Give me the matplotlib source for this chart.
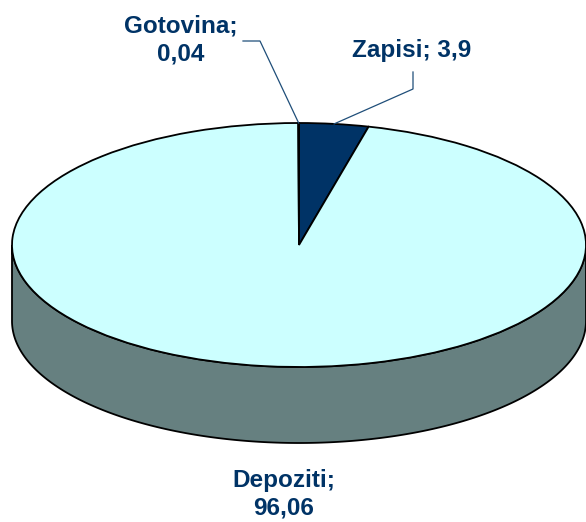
import numpy as np
import matplotlib
matplotlib.use("Agg")
import matplotlib.pyplot as plt
from matplotlib.transforms import Affine2D

# ---- data ----
categories = ["Zapisi", "Depoziti", "Gotovina"]
values = [3.9, 96.06, 0.04]
value_labels = ["3,9", "96,06", "0,04"]
top_colors = ["#003366", "#CCFFFF", "#CCFFFF"]
side_color = "#668080"
text_color = "#003366"

plt.rcParams['font.family'] = ['Liberation Sans', 'DejaVu Sans']

W, H = 586, 522
fig = plt.figure(figsize=(W / 100, H / 100), dpi=100)
ax = fig.add_axes([0, 0, 1, 1])

# ellipse geometry (pixels)
cx, cy, rx, ry, depth = 299, 245, 287, 122, 76

# side band (front half)
t = np.linspace(0, np.pi, 300)
top_x = cx + rx * np.cos(t)
top_y = cy + ry * np.sin(t)
side_x = np.concatenate([top_x, top_x[::-1]])
side_y = np.concatenate([top_y, top_y[::-1] + depth])
ax.fill(side_x, side_y, facecolor=side_color, edgecolor="black", linewidth=1.3, zorder=1)

# top face via pie, squashed into ellipse
wedges, _ = ax.pie(values, colors=top_colors, startangle=90, counterclock=False,
                   wedgeprops=dict(edgecolor="black", linewidth=1.3), frame=True)
tr = Affine2D().scale(rx, -ry).translate(cx, cy) + ax.transData
for w in wedges:
    w.set_transform(tr)
    w.set_zorder(2)

ax.set_xlim(0, W)
ax.set_ylim(H, 0)
ax.set_aspect('auto')
ax.axis('off')

# labels
def ell_point(angle_deg):
    a = np.deg2rad(angle_deg)
    return cx + rx * np.cos(a), cy - ry * np.sin(a)

mids = [(w.theta1 + w.theta2) / 2 for w in wedges]

fs = 17.5
# Zapisi
ax.text(412, 50, f"{categories[0]}; {value_labels[0]}", ha="center", va="center",
        fontsize=fs, fontweight="bold", color=text_color, zorder=5)
px, py = ell_point(mids[0])
ax.plot([413, 413, px], [72, 89, py], color="#1F4E79", lw=0.9, zorder=4)

# Gotovina
ax.text(181, 40, f"{categories[2]};\n{value_labels[2]}", ha="center", va="center",
        fontsize=fs, fontweight="bold", color=text_color, linespacing=1.25, zorder=5)
px, py = ell_point(mids[2])
ax.plot([243, 260, px], [41, 41, py], color="#1F4E79", lw=0.9, zorder=4)

# Depoziti
ax.text(284, 494, f"{categories[1]};\n{value_labels[1]}", ha="center", va="center",
        fontsize=fs, fontweight="bold", color=text_color, linespacing=1.25, zorder=5)

fig.savefig("out.png", dpi=100)
